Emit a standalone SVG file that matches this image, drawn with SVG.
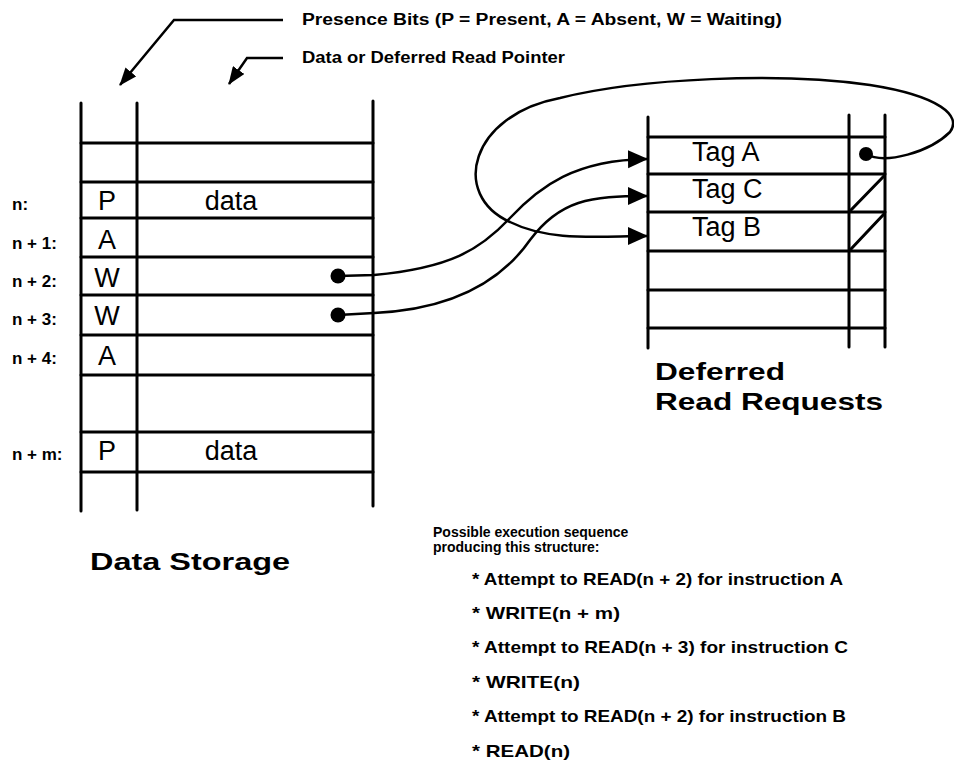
<svg xmlns="http://www.w3.org/2000/svg" width="954" height="780" viewBox="0 0 954 780">
<style>
  .ln { stroke:#000; stroke-width:3; fill:none; stroke-linecap:round; }
  .cv { stroke:#000; stroke-width:2.5; fill:none; }
  .lbl { font-family:"Liberation Sans", Arial, sans-serif; font-weight:bold; fill:#000; }
  .big { font-family:"Liberation Sans", Arial, sans-serif; font-size:27px; fill:#000; }
  .ttl { font-family:"Liberation Sans", Arial, sans-serif; font-weight:bold; font-size:24px; fill:#000; }
</style>
<defs>
  <marker id="ah" viewBox="0 0 20 20" refX="19" refY="10" markerWidth="20" markerHeight="20" markerUnits="userSpaceOnUse" orient="auto">
    <path d="M0,1 L20,10 L0,19 Z" fill="#000"/>
  </marker>
  <marker id="ah2" viewBox="0 0 18 14" refX="17" refY="7" markerWidth="18" markerHeight="14" markerUnits="userSpaceOnUse" orient="auto">
    <path d="M0,0 L18,7 L0,14 Z" fill="#000"/>
  </marker>
</defs>

<g id="annotations">
  <text class="lbl" x="302" y="25" font-size="16" textLength="480" lengthAdjust="spacingAndGlyphs">Presence Bits (P = Present, A = Absent, W = Waiting)</text>
  <text class="lbl" x="302" y="63" font-size="16" textLength="263" lengthAdjust="spacingAndGlyphs">Data or Deferred Read Pointer</text>
  <polyline class="cv" points="283,20 174,20 120,85" marker-end="url(#ah2)"/>
  <polyline class="cv" points="283,58 247,58 229,84" marker-end="url(#ah2)"/>
</g>

<g id="data-storage">
  <line class="ln" x1="81" y1="103" x2="81" y2="511"/>
  <line class="ln" x1="137" y1="103" x2="137" y2="510"/>
  <line class="ln" x1="373" y1="101" x2="373" y2="506"/>
  <line class="ln" x1="81" y1="143" x2="373" y2="143"/>
  <line class="ln" x1="81" y1="182" x2="373" y2="182"/>
  <line class="ln" x1="81" y1="218" x2="373" y2="218"/>
  <line class="ln" x1="81" y1="257" x2="373" y2="257"/>
  <line class="ln" x1="81" y1="295" x2="373" y2="295"/>
  <line class="ln" x1="81" y1="335" x2="373" y2="335"/>
  <line class="ln" x1="81" y1="375" x2="373" y2="375"/>
  <line class="ln" x1="81" y1="432" x2="373" y2="432"/>
  <line class="ln" x1="81" y1="472" x2="373" y2="472"/>

  <text class="lbl" x="12" y="210" font-size="17">n:</text>
  <text class="lbl" x="12" y="249" font-size="17">n + 1:</text>
  <text class="lbl" x="12" y="287" font-size="17">n + 2:</text>
  <text class="lbl" x="12" y="325" font-size="17">n + 3:</text>
  <text class="lbl" x="12" y="364" font-size="17">n + 4:</text>
  <text class="lbl" x="12" y="460" font-size="17">n + m:</text>

  <text class="big" x="107" y="210" text-anchor="middle">P</text>
  <text class="big" x="107" y="249" text-anchor="middle">A</text>
  <text class="big" x="107" y="287" text-anchor="middle">W</text>
  <text class="big" x="107" y="325" text-anchor="middle">W</text>
  <text class="big" x="107" y="365" text-anchor="middle">A</text>
  <text class="big" x="107" y="460" text-anchor="middle">P</text>
  <text class="big" x="231" y="210" text-anchor="middle">data</text>
  <text class="big" x="231" y="460" text-anchor="middle">data</text>

  <circle cx="338" cy="276" r="7.5" fill="#000"/>
  <circle cx="338" cy="315" r="7.5" fill="#000"/>

  <text class="ttl" x="90" y="570" textLength="200" lengthAdjust="spacingAndGlyphs">Data Storage</text>
</g>

<g id="deferred-read-requests">
  <line class="ln" x1="648" y1="117" x2="648" y2="348"/>
  <line class="ln" x1="849" y1="115" x2="849" y2="347"/>
  <line class="ln" x1="885" y1="115" x2="885" y2="347"/>
  <line class="ln" x1="648" y1="137" x2="885" y2="137"/>
  <line class="ln" x1="648" y1="174" x2="885" y2="174"/>
  <line class="ln" x1="648" y1="212" x2="885" y2="212"/>
  <line class="ln" x1="648" y1="251" x2="885" y2="251"/>
  <line class="ln" x1="648" y1="290" x2="885" y2="290"/>
  <line class="ln" x1="648" y1="328" x2="885" y2="328"/>
  <line class="ln" x1="851" y1="210" x2="884" y2="176"/>
  <line class="ln" x1="851" y1="249" x2="884" y2="214"/>

  <text class="big" x="692" y="161">Tag A</text>
  <text class="big" x="692" y="198">Tag C</text>
  <text class="big" x="692" y="236">Tag B</text>
  <circle cx="866" cy="154" r="7" fill="#000"/>

  <text class="ttl" x="655" y="380" textLength="130" lengthAdjust="spacingAndGlyphs">Deferred</text>
  <text class="ttl" x="655" y="410" textLength="228" lengthAdjust="spacingAndGlyphs">Read Requests</text>
</g>

<g id="connectors">
  <path class="cv" d="M338,276 L374,275 C450,268 480,250 510,218 C540,186 575,160 647,159" marker-end="url(#ah)"/>
  <path class="cv" d="M338,315 L374,313 C440,310 495,290 530,240 C560,200 590,196 647,196" marker-end="url(#ah)"/>
  <path class="cv" d="M866,154 C885,165 930,152 950,132 C962,116 940,96 870,85 C780,72 640,78 560,98 C470,115 450,195 510,222 C550,242 600,236 647,236" marker-end="url(#ah)"/>
</g>

<g id="sequence">
  <text class="lbl" x="433" y="537" font-size="14">Possible execution sequence</text>
  <text class="lbl" x="433" y="552" font-size="14">producing this structure:</text>
  <text class="lbl" x="472" y="585" font-size="17" textLength="371" lengthAdjust="spacingAndGlyphs">* Attempt to READ(n + 2) for instruction A</text>
  <text class="lbl" x="472" y="619" font-size="17" textLength="148" lengthAdjust="spacingAndGlyphs">* WRITE(n + m)</text>
  <text class="lbl" x="472" y="653" font-size="17" textLength="376" lengthAdjust="spacingAndGlyphs">* Attempt to READ(n + 3) for instruction C</text>
  <text class="lbl" x="472" y="688" font-size="17" textLength="108" lengthAdjust="spacingAndGlyphs">* WRITE(n)</text>
  <text class="lbl" x="472" y="722" font-size="17" textLength="374" lengthAdjust="spacingAndGlyphs">* Attempt to READ(n + 2) for instruction B</text>
  <text class="lbl" x="472" y="757" font-size="17" textLength="98" lengthAdjust="spacingAndGlyphs">* READ(n)</text>
</g>
</svg>
